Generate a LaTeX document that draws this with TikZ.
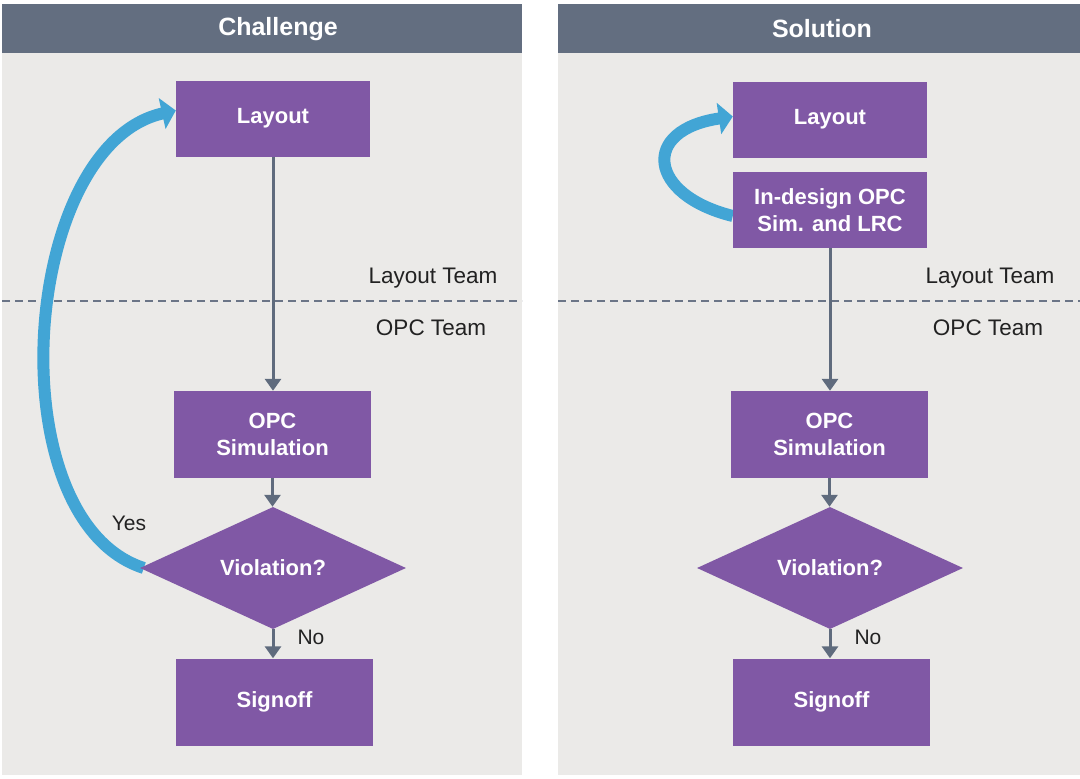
\documentclass[tikz,border=0pt]{standalone}
\usepackage{fontspec}
\setmainfont{Liberation Sans}
\usetikzlibrary{arrows.meta,shapes.geometric}
\definecolor{hdr}{HTML}{636E80}
\definecolor{panelbg}{HTML}{EBEAE8}
\definecolor{purp}{HTML}{8058A5}
\definecolor{loopblue}{HTML}{42A5D5}
\definecolor{conn}{HTML}{5F6B7D}
\definecolor{dash}{HTML}{6B7587}
\definecolor{txt}{HTML}{222222}
\pgfdeclarelayer{bg}
\pgfdeclarelayer{mid}
\pgfsetlayers{bg,mid,main}
\begin{document}
\begin{tikzpicture}[x=1pt,y=-1pt,
  box/.style={fill=purp, draw=none, minimum width=194pt, minimum height=76pt, inner sep=0pt,
    text=white, font=\fontsize{22}{27}\selectfont\bfseries, align=center},
  bigbox/.style={box, minimum width=197pt, minimum height=87pt},
  dec/.style={diamond, fill=purp, draw=none, minimum width=266pt, minimum height=115pt, inner sep=0pt,
    text=white, font=\fontsize{22}{27}\selectfont\bfseries},
  flow/.style={draw=conn, line width=3pt, -{Triangle[width=16pt,length=12pt]}},
  loopar/.style={draw=loopblue, line width=12pt, -{Triangle[width=31pt,length=14pt]}},
  title/.style={text=white, font=\fontsize{25}{30}\selectfont\bfseries},
  team/.style={text=txt, font=\fontsize{22.5}{27}\selectfont},
  lbl/.style={text=txt, font=\fontsize{21}{25}\selectfont},
  sep/.style={draw=dash, line width=2.5pt, dash pattern=on 8pt off 5pt}
]
\useasboundingbox (0,0) rectangle (1080,779);
\begin{pgfonlayer}{bg}
  \fill[white] (0,0) rectangle (1080,779);
  \fill[panelbg] (2,53) rectangle (522,775);
  \fill[hdr] (2,4) rectangle (522,53);
  \fill[panelbg] (558,53) rectangle (1080,775);
  \fill[hdr] (558,4) rectangle (1080,53);
  \draw[sep] (2,301) -- (522,301);
  \draw[sep] (558,301) -- (1080,301);
\end{pgfonlayer}

% titles
\node[title] (t1) at (278,29) {Challenge};
\node[title] (t2) at (822,29) {Solution};

% left flow
\node[box] (L1) at (273,118.5) {Layout};
\node[bigbox] (O1) at (272.5,434.5) {OPC\\Simulation};
\node[dec] (D1) at (273,568) {Violation?};
\node[bigbox] (S1) at (274.5,702) {Signoff};
\node[team] (lt1) at (433,278) {Layout Team};
\node[team] (ot1) at (431,328) {OPC Team};
\node[lbl] (yes) at (129,523) {Yes};
\node[lbl] (no1) at (311,637) {No};

\draw[flow] (L1.south) -- (L1.south |- O1.north);
\draw[flow] (O1.south) -- (O1.south |- D1.north);
\draw[flow] (D1.south) -- (D1.south |- S1.north);

% right flow
\node[box] (L2) at (830,119.5) {Layout};
\node[box] (I2) at (830,210) {In-design OPC\\Sim. and LRC};
\node[bigbox] (O2) at (829.5,434.5) {OPC\\Simulation};
\node[dec] (D2) at (830,568) {Violation?};
\node[bigbox] (S2) at (831.5,702) {Signoff};
\node[team] (lt2) at (990,278) {Layout Team};
\node[team] (ot2) at (988,328) {OPC Team};
\node[lbl] (no2) at (868,637) {No};

\draw[flow] (I2.south) -- (I2.south |- O2.north);
\draw[flow] (O2.south) -- (O2.south |- D2.north);
\draw[flow] (D2.south) -- (D2.south |- S2.north);

% feedback loops
\begin{pgfonlayer}{mid}
  \draw[loopar] ([xshift=4pt]D1.west) .. controls (-5,520) and (20,145) .. ([yshift=8pt]L1.west);
  \draw[loopar] ([yshift=-6pt]I2.west) .. controls (648,195) and (640,130) .. ([yshift=3pt]L2.west);
\end{pgfonlayer}
\end{tikzpicture}
\end{document}
